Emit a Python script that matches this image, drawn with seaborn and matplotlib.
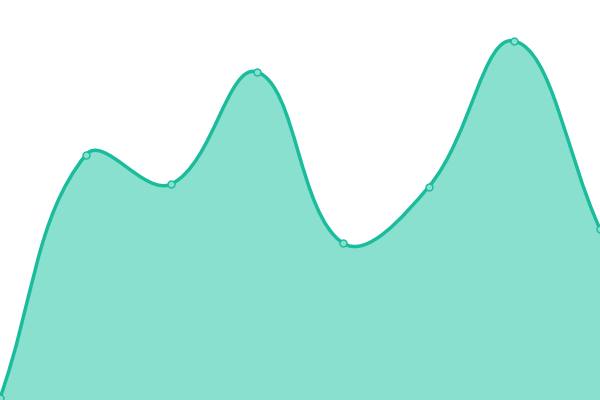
import numpy as np
import matplotlib
matplotlib.use("Agg")
import matplotlib.pyplot as plt
from matplotlib.path import Path
from matplotlib.patches import PathPatch
import seaborn as sns

# values (0 = bottom edge, 400 = top edge)
x_idx = [0, 1, 2, 3, 4, 5, 6, 7]
values = [2, 245, 216, 328, 157, 213, 359, 171]

LINE = "#1abc9c"
FILL = "#89e0cf"
TENSION = 0.4
X_PX = 600 / 7  # pixels per x step, used for segment lengths


def smooth_path(xs, ys, close_to=None):
    # tension spline, control points weighted by segment lengths in pixels
    p = np.column_stack([np.asarray(xs, float) * X_PX, np.asarray(ys, float)])
    n = len(p)
    cp_in = p.copy()
    cp_out = p.copy()
    for i in range(n):
        prev = p[max(i - 1, 0)]
        nxt = p[min(i + 1, n - 1)]
        d01 = np.hypot(*(p[i] - prev))
        d12 = np.hypot(*(nxt - p[i]))
        fa = TENSION * d01 / (d01 + d12)
        fb = TENSION * d12 / (d01 + d12)
        cp_in[i] = p[i] - fa * (nxt - prev)
        cp_out[i] = p[i] + fb * (nxt - prev)
    lo = np.array([0, 0])
    hi = np.array([600, 400])
    cp_in = np.clip(cp_in, lo, hi)
    cp_out = np.clip(cp_out, lo, hi)
    scale = np.array([1 / X_PX, 1.0])
    p, cp_in, cp_out = p * scale, cp_in * scale, cp_out * scale
    verts = [p[0]]
    codes = [Path.MOVETO]
    for i in range(n - 1):
        verts += [cp_out[i], cp_in[i + 1], p[i + 1]]
        codes += [Path.CURVE4] * 3
    if close_to is not None:
        verts += [(xs[-1], close_to), (xs[0], close_to), p[0]]
        codes += [Path.LINETO, Path.LINETO, Path.CLOSEPOLY]
    return Path(verts, codes)


sns.set_theme(style="white")
fig = plt.figure(figsize=(6, 4), dpi=100)
ax = fig.add_axes([0, 0, 1, 1])

ax.add_patch(PathPatch(smooth_path(x_idx, values, close_to=0),
                       facecolor=FILL, edgecolor="none", zorder=1))
ax.add_patch(PathPatch(smooth_path(x_idx, values), facecolor="none",
                       edgecolor=LINE, lw=2.5, zorder=2, capstyle="round"))
sns.scatterplot(x=x_idx, y=values, ax=ax, s=25, color=FILL,
                edgecolor=LINE, linewidth=1, zorder=3, clip_on=False)

ax.set_xlim(0, 7)
ax.set_ylim(0, 400)
ax.set_axis_off()

fig.savefig("out.png", dpi=100)
